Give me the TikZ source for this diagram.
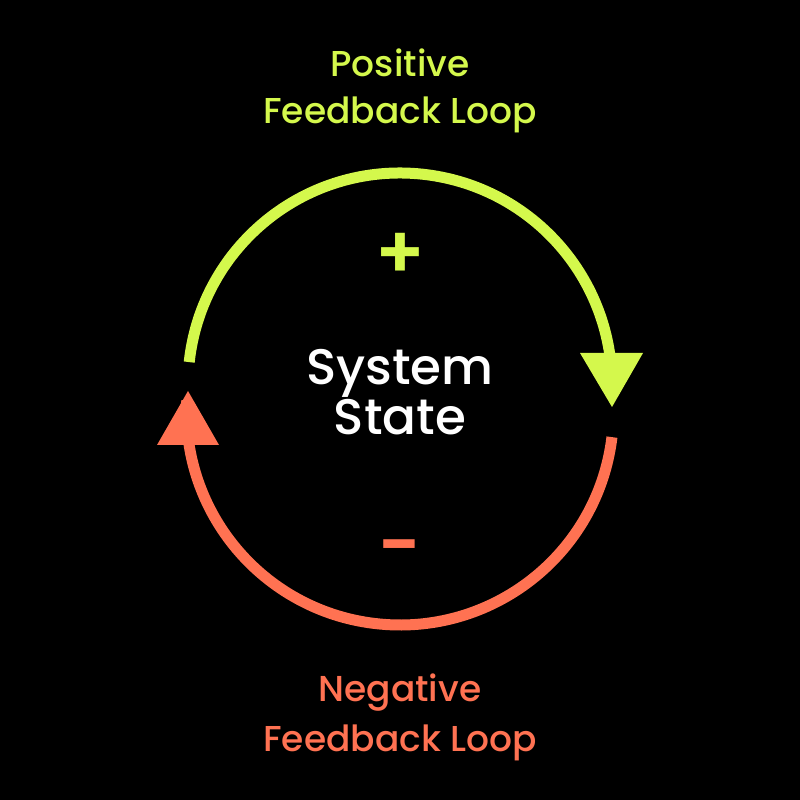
\documentclass[tikz,border=0pt]{standalone}
\usepackage{fontspec}
\setmainfont{Poppins}[UprightFont=* Medium]
\newfontfamily\signfont{Poppins}[UprightFont=* SemiBold]
\definecolor{lime}{HTML}{D4F84C}
\definecolor{coral}{HTML}{FF7252}
\tikzset{
  loopline/.style={line width=11pt, line cap=butt},
  looplabel/.style={anchor=base, inner sep=0pt, font=\fontsize{36}{40}\selectfont},
  centerlabel/.style={anchor=base, inner sep=0pt, font=\fontsize{50}{54}\selectfont, text=white},
  signlabel/.style={inner sep=0pt, font=\fontsize{74}{78}\signfont}
}
\begin{document}
\begin{tikzpicture}[x=1pt,y=1pt]
\fill[black] (0,0) rectangle (800,800);
\useasboundingbox (0,0) rectangle (800,800);
% positive loop arc
\coordinate (pstart) at (189.2,437.9);
\draw[loopline, lime] (pstart) arc[start angle=173.8, end angle=-3, radius=212];
\fill[lime] (580,447) -- (643,447) -- (612,393) -- cycle;
% negative loop arc
\coordinate (nstart) at (611.95,362.86);
\draw[loopline, coral] (nstart) arc[start angle=-6.9, end angle=-183, radius=213.5];
\fill[coral] (157,355) -- (219,355) -- (188,409) -- cycle;
% labels
\node[looplabel, text=lime] (pos1) at (400,723.3) {Positive};
\node[looplabel, text=lime] (pos2) at (400,676.7) {Feedback Loop};
\node[centerlabel] (sys1) at (400,415) {System};
\node[centerlabel] (sys2) at (400,365) {State};
\node[signlabel, text=lime] (plus) at (400,544) {+};
\node[signlabel, text=coral] (minus) at (400,245) {-};
\node[looplabel, text=coral] (neg1) at (400,98.3) {Negative};
\node[looplabel, text=coral] (neg2) at (400,48.3) {Feedback Loop};
\end{tikzpicture}
\end{document}
